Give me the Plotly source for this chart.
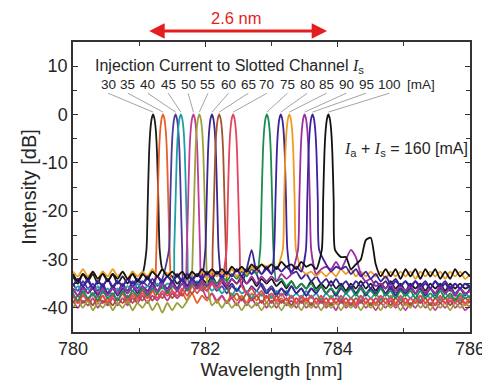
import numpy as np
import plotly.graph_objects as go

# ---------------- data ----------------
currents_mA = [30, 35, 40, 45, 50, 55, 60, 65, 70, 75, 80, 85, 90, 95, 100]
peak_nm = [781.21, 781.36, 781.55, 781.63, 781.82, 781.91, 782.10, 782.21,
           782.42, 782.93, 783.14, 783.27, 783.50, 783.62, 783.86]
colors = ['#1a1a1a', '#e8602a', '#4b3a9a', '#1f9ea5', '#c23a95', '#9ba03c',
          '#3a2690', '#a4522f', '#e8435c', '#1a8c4e', '#3b2398', '#f29a1f',
          '#9a2f9f', '#3f219c', '#111111']

# common sampling grid of the floor readings (780 .. 786 nm, 81 samples)
wl_grid = np.linspace(780.0, 786.0, 81)

# shared lasing-peak profile (offset from peak in nm, level in dB)
peak_offset_nm = [-0.12, -0.10, -0.08, -0.06, -0.04, -0.02, 0.0,
                  0.02, 0.04, 0.06, 0.08, 0.10, 0.12]
peak_shape_db = [-35, -28, -18, -8, -3, -0.8, 0, -0.8, -3, -8, -18, -28, -35]

floor_30 = [-33.5, -35, -33, -34.5, -33, -35, -32.5, -34.5, -33, -35,
            -33.5, -35, -32.5, -34.5, -33, -34, -32, -33.5, -32, -33,
            -33.5, -35, -34, -35.5, -34, -35.5, -34, -35, -33.5, -35,
            -34, -35.5, -34, -35, -33.5, -35, -34, -35.5, -34, -35,
            -34, -35.5, -34.5, -36, -34.5, -36, -35, -36, -34.5, -36,
            -35, -36, -34.5, -36, -35, -36.5, -35, -36, -34.5, -36,
            -35, -36.5, -35, -36, -34.5, -36, -35, -36.5, -35, -36,
            -35, -36.5, -35, -36, -35, -36.5, -35, -36, -35, -36,
            -35.5]
floor_35 = [-37.5, -39, -37, -38.5, -37, -39, -37.5, -39.5, -37, -38.5,
            -37, -39, -37.5, -38.5, -37, -38, -36.5, -38, -36, -37.5,
            -36.5, -38, -37, -38.5, -37, -39, -37.5, -38.5, -37, -39,
            -37.5, -39, -37, -38.5, -37.5, -39, -37, -38.5, -37, -39,
            -37.5, -39, -38, -39.5, -37.5, -39, -38, -39, -37.5, -39,
            -38, -39.5, -37.5, -39, -38, -39.5, -38, -39, -37.5, -39,
            -38, -39.5, -38, -39, -37.5, -39, -38, -39.5, -38, -39,
            -37.5, -39, -38, -39.5, -38, -39, -37.5, -39, -38, -39.5,
            -38.5]
floor_40 = [-35, -36.5, -34.5, -36, -35, -36.5, -35, -37, -35.5, -36.5,
            -35, -36.5, -34.5, -36, -34.5, -35.5, -34, -35.5, -34, -35,
            -33.5, -35, -34, -35.5, -34.5, -36, -35, -36.5, -35, -36.5,
            -35.5, -37, -35.5, -36.5, -35, -37, -35.5, -36.5, -35, -36.5,
            -35.5, -37, -36, -37.5, -35.5, -37, -36, -37.5, -36, -37,
            -35.5, -37, -36, -37.5, -35.5, -37, -36, -37, -35.5, -37,
            -36, -37.5, -36, -37, -35.5, -37, -36, -37.5, -36, -37,
            -35.5, -37, -36, -37.5, -36, -37, -35.5, -37, -36, -37.5,
            -36]
floor_45 = [-37, -35.5, -37, -36, -37.5, -35.5, -37, -36, -37.5, -36,
            -37, -35.5, -36.5, -35, -36.5, -35.5, -36, -35, -36, -35,
            -35.5, -34.5, -35, -34, -35.5, -34.5, -36, -35, -36.5, -35.5,
            -37, -36, -37.5, -36, -37, -36.5, -38, -36.5, -37.5, -36.5,
            -38, -36.5, -37.5, -36.5, -38, -37, -38, -36.5, -38, -37,
            -38.5, -37, -38, -37, -38.5, -37, -38, -37, -38.5, -37,
            -38, -37, -38.5, -37, -38, -37, -38.5, -37, -38, -37,
            -38.5, -37, -38, -37, -38.5, -37, -38, -37, -38.5, -37,
            -38]
floor_50 = [-38.5, -40, -38.5, -39.5, -38, -40, -38.5, -39.5, -38, -39.5,
            -38, -39.5, -38, -39, -37.5, -39, -37.5, -38.5, -37, -38.5,
            -37, -38, -36.5, -37.5, -36, -37.5, -36.5, -38, -37, -38.5,
            -37.5, -39, -38, -39.5, -38, -39.5, -38, -39.5, -38.5, -40,
            -38.5, -40, -38.5, -39.5, -38.5, -40, -38.5, -40, -39, -40,
            -38.5, -40, -39, -40.5, -38.5, -40, -39, -40, -38.5, -40,
            -39, -40.5, -39, -40, -38.5, -40, -39, -40.5, -39, -40,
            -38.5, -40, -39, -40.5, -39, -40, -38.5, -40, -39, -40.5,
            -39.5]
floor_55 = [-40, -38.5, -40, -38.5, -40.5, -39, -40, -38.5, -40.5, -39,
            -40, -38.5, -40.5, -39, -40, -38.5, -40.5, -39, -41, -39,
            -40.5, -39, -40, -38.5, -39.5, -38, -39, -38, -39.5, -38.5,
            -40, -38.5, -40, -39, -40.5, -39, -40, -39, -40.5, -39,
            -40, -39, -40.5, -39, -40, -39, -40.5, -39, -40, -39,
            -40.5, -39, -40, -39, -40.5, -39, -40, -39, -40.5, -39,
            -40, -39, -40.5, -39, -40, -39, -40.5, -39, -40, -38.5,
            -40, -39, -40.5, -39, -40, -39, -40.5, -39, -40, -39,
            -40]
floor_60 = [-36, -37.5, -35.5, -37, -36, -37.5, -35.5, -37, -36, -37.5,
            -36, -37, -35.5, -37, -35.5, -36.5, -35, -36.5, -35, -36,
            -34.5, -36, -34, -35.5, -34, -35, -33.5, -35, -34, -35.5,
            -34.5, -36, -35, -36.5, -35, -32, -28, -33, -35.5, -37,
            -36, -37.5, -36, -37, -35.5, -37, -36, -37.5, -36, -37,
            -35.5, -37, -36, -37.5, -36, -37, -35.5, -37, -36, -37.5,
            -36, -37, -35.5, -37, -36, -37.5, -36, -37, -35.5, -37,
            -36, -37.5, -36, -37, -35.5, -37, -36, -37.5, -36, -37,
            -36.5]
floor_65 = [-39, -37.5, -39, -38, -39.5, -37.5, -39, -38, -39.5, -38,
            -39, -37.5, -39, -37.5, -38.5, -37, -38.5, -37, -38, -36.5,
            -38, -36.5, -37.5, -36, -37, -35.5, -36.5, -35.5, -37, -36,
            -37.5, -36.5, -38, -37, -38.5, -37, -38.5, -37.5, -39, -37.5,
            -39, -37.5, -39, -38, -39.5, -38, -39, -38, -39.5, -38,
            -39, -38, -39.5, -38, -39, -38, -39.5, -38, -39, -38,
            -39.5, -38, -39, -38, -39.5, -38, -39, -38, -39.5, -38,
            -39, -38, -39.5, -38, -39, -38, -39.5, -38, -39, -38,
            -39]
floor_70 = [-37.5, -39, -37.5, -38.5, -37, -38.5, -37.5, -39, -37.5, -38.5,
            -37, -38.5, -37, -38, -36.5, -38, -36.5, -38, -36.5, -37.5,
            -36.5, -37.5, -36, -37.5, -35.5, -37, -35.5, -36.5, -35, -36,
            -34.5, -36, -35, -36.5, -35.5, -37, -36, -37.5, -36.5, -38,
            -37, -38.5, -37, -38.5, -37.5, -39, -37.5, -38.5, -37.5, -39,
            -37.5, -39, -38, -39, -37.5, -39, -38, -39.5, -37.5, -39,
            -38, -39, -37.5, -39, -38, -39.5, -37.5, -39, -38, -39,
            -37.5, -39, -38, -39.5, -37.5, -39, -38, -39, -37.5, -39,
            -38]
floor_75 = [-37, -38.5, -36.5, -38, -37, -38.5, -36.5, -38, -37, -38.5,
            -36.5, -38, -36.5, -37.5, -36, -37.5, -36, -37, -35.5, -37,
            -35.5, -36.5, -35, -36.5, -35, -36, -34.5, -35.5, -34, -35,
            -33.5, -34.5, -33, -34, -32.5, -33.5, -32, -33, -32, -33,
            -33, -34.5, -34, -35.5, -34.5, -36, -35, -36, -35, -36.5,
            -35.5, -37, -36, -37, -35.5, -37, -36, -37.5, -36, -37,
            -36.5, -37.5, -36, -37.5, -36.5, -38, -36.5, -37.5, -36.5, -38,
            -36.5, -38, -37, -38, -36.5, -38, -37, -38.5, -37, -38,
            -37.5]
floor_80 = [-35.5, -34, -35.5, -34.5, -36, -34.5, -35.5, -34, -36, -34.5,
            -35.5, -34, -35.5, -34.5, -35, -34, -35, -33.5, -35, -33.5,
            -34.5, -33.5, -34.5, -33, -34.5, -33, -34, -33, -34, -32.5,
            -34, -32.5, -33.5, -32, -33.5, -32, -33, -31.5, -33, -32,
            -33, -32, -33.5, -32, -33, -32.5, -34, -33, -34.5, -33.5,
            -35, -34, -35.5, -34, -35.5, -34.5, -36, -34.5, -35.5, -34.5,
            -36, -34.5, -35.5, -34.5, -36, -34.5, -35.5, -34.5, -36, -34.5,
            -36, -35, -36, -34.5, -36, -35, -36.5, -35, -36, -35,
            -36]
floor_85 = [-32.5, -33.5, -32, -33.5, -32.5, -34, -32.5, -33.5, -32, -33.5,
            -32.5, -34, -32.5, -33.5, -32.5, -33.5, -32, -33.5, -32, -33,
            -32.5, -33.5, -32.5, -34, -32.5, -33.5, -32.5, -34, -32.5, -33.5,
            -32.5, -33.5, -32, -33.5, -32, -33, -31.5, -32.5, -31, -31.5,
            -31, -32, -31, -32, -31.5, -32.5, -32, -33, -32.5, -33.5,
            -32.5, -33.5, -32.5, -33.5, -32, -33, -32, -33.5, -32.5, -33.5,
            -32.5, -33.5, -32.5, -34, -32.5, -33.5, -32.5, -33.5, -32.5, -34,
            -32.5, -33.5, -32.5, -33.5, -32.5, -34, -32.5, -33.5, -32.5, -34,
            -33]
floor_90 = [-36, -37.5, -36, -37, -35.5, -37, -36, -37.5, -36, -37,
            -35.5, -37, -35.5, -36.5, -35.5, -37, -35.5, -36.5, -35, -36.5,
            -35, -36.5, -35, -36, -34.5, -36, -34.5, -35.5, -34.5, -35.5,
            -34, -35.5, -34, -35, -34, -35, -33.5, -35, -33.5, -34.5,
            -33.5, -34.5, -33, -34, -33, -34, -33, -33.5, -32.5, -33,
            -32, -31.5, -32, -30.5, -32, -30, -28, -29.5, -33, -34.5,
            -34, -35.5, -35, -36, -35, -36.5, -35.5, -36.5, -35.5, -37,
            -35.5, -37, -36, -37, -35.5, -37, -36, -37.5, -36, -37,
            -36.5]
floor_95 = [-35.5, -34, -35.5, -34, -36, -34.5, -35.5, -34, -35.5, -34.5,
            -35.5, -34, -35, -34, -35, -33.5, -35, -33.5, -34.5, -33.5,
            -34.5, -33, -34.5, -33, -34, -33, -34, -32.5, -34, -32.5,
            -33.5, -32.5, -33.5, -32, -33.5, -32, -33, -32, -33, -31.5,
            -33, -31.5, -32.5, -31.5, -32.5, -31.5, -32.5, -31, -32, -31,
            -32, -31, -32.5, -31.5, -32, -31.5, -33, -32, -33.5, -32.5,
            -34, -33, -34.5, -33.5, -35, -34, -35.5, -34.5, -35.5, -34.5,
            -35.5, -34.5, -36, -34.5, -35.5, -34.5, -36, -35, -36, -35,
            -35.5]
floor_100 = [-33, -34.5, -33, -34, -32.5, -34, -33, -34.5, -33, -34,
             -32.5, -34, -33, -34.5, -33, -34, -32.5, -33.5, -32, -33.5,
             -32.5, -33.5, -32.5, -34, -32.5, -33.5, -32, -33, -32, -33,
             -32, -33, -31.5, -32.5, -31.5, -32.5, -31, -32, -31, -32,
             -31, -32, -30.5, -31.5, -31, -32, -30.5, -31.5, -31, -32,
             -31, -32, -31, -32, -29.5, -29.5, -32, -31, -30, -26,
             -25.5, -31, -33.5, -32, -33.5, -32, -34, -32, -33.5, -32,
             -34, -32, -33.5, -32, -34, -32.5, -34, -32, -33.5, -32.5,
             -33.5]

floors = [floor_30, floor_35, floor_40, floor_45, floor_50, floor_55, floor_60,
          floor_65, floor_70, floor_75, floor_80, floor_85, floor_90, floor_95,
          floor_100]

x_ticks = [780, 782, 784, 786]
y_ticks = [-40, -30, -20, -10, 0, 10]
y_ticktext = ["-40", "-30", "-20", "-10", "0", "10"]

# label placement (nm) for the current labels row
label_x_nm = [780.53, 780.83, 781.13, 781.44, 781.74, 782.04, 782.35, 782.65,
              782.93, 783.24, 783.54, 783.83, 784.13, 784.43, 784.78]

FONT = "Liberation Sans, Arial, Helvetica, sans-serif"
TXT = "#262626"

fig = go.Figure()
for cur, pk, col, fl in zip(currents_mA, peak_nm, colors, floors):
    fl = np.asarray(fl, dtype=float)
    mask = np.abs(wl_grid - pk) >= 0.13
    fx, fy = wl_grid[mask], fl[mask]
    px = pk + np.asarray(peak_offset_nm)
    py = np.asarray(peak_shape_db, dtype=float)
    keep = py > np.interp(px, fx, fy)
    x = np.concatenate([fx, px[keep]])
    y = np.concatenate([fy, py[keep]])
    order = np.argsort(x)
    fig.add_trace(go.Scatter(
        x=x[order], y=y[order], mode="lines",
        line=dict(color=col, width=1.8, shape="spline", smoothing=0.6),
        name=f"{cur} mA", showlegend=False, hoverinfo="skip"))

# leader lines and current labels
for cur, lx, pk in zip(currents_mA, label_x_nm, peak_nm):
    fig.add_shape(type="line", xref="x", yref="y", x0=lx, y0=4.4, x1=pk, y1=0.5,
                  line=dict(color="#8c8c8c", width=0.8))
    fig.add_annotation(x=lx, y=6.3, xref="x", yref="y", text=str(cur),
                       showarrow=False, xanchor="center", yanchor="middle",
                       font=dict(family=FONT, size=13.5, color=TXT))
fig.add_annotation(x=785.26, y=6.3, xref="x", yref="y", text="[mA]",
                   showarrow=False, xanchor="center", yanchor="middle",
                   font=dict(family=FONT, size=13.5, color=TXT))

IS = ("<span style=\"font-family:'Liberation Serif', 'Times New Roman', serif\">"
      "<i>I</i></span>")
fig.add_annotation(x=780.30, y=10.0, xref="x", yref="y",
                   text="Injection Current to Slotted Channel " + IS + "<sub>s</sub>",
                   showarrow=False, xanchor="left", yanchor="middle",
                   font=dict(family=FONT, size=16, color=TXT))
fig.add_annotation(x=784.06, y=-7.3, xref="x", yref="y",
                   text=IS + "<sub>a</sub> + " + IS + "<sub>s</sub> = 160 [mA]",
                   showarrow=False, xanchor="left", yanchor="middle",
                   font=dict(family=FONT, size=16, color=TXT))

# 2.6 nm double arrow
RED = "#e41e1e"
fig.add_annotation(x=783.84, y=1.038, xref="x", yref="paper",
                   ax=781.13, ay=0, axref="x", ayref="pixel", text="",
                   showarrow=True, arrowhead=2, arrowside="end+start",
                   arrowsize=1.1, arrowwidth=2.8, arrowcolor=RED)
fig.add_annotation(x=782.46, y=1.117, xref="x", yref="paper", text="2.6 nm",
                   showarrow=False, xanchor="center", yanchor="top", borderpad=0,
                   font=dict(family=FONT, size=16.5, color=RED))

axis_common = dict(showline=True, linecolor="#333333", linewidth=1.5, mirror="ticks",
                   ticks="inside", ticklen=5, tickwidth=1.2, tickcolor="#333333",
                   showgrid=False, zeroline=False,
                   tickfont=dict(family=FONT, size=18, color=TXT))
fig.update_xaxes(range=[780, 786], tickmode="array", tickvals=x_ticks,
                 ticktext=[str(v) for v in x_ticks],
                 minor=dict(ticks="inside", ticklen=4, tickvals=[781, 783, 785],
                            tickcolor="#333333", tickwidth=1.2),
                 title=dict(text="Wavelength [nm]", standoff=1,
                            font=dict(family=FONT, size=19, color=TXT)),
                 **axis_common)
fig.update_yaxes(range=[-45, 15], tickmode="array", tickvals=y_ticks,
                 ticktext=y_ticktext,
                 minor=dict(ticks="inside", ticklen=4, tickvals=[-35, -25, -15, -5, 5],
                            tickcolor="#333333", tickwidth=1.2),
                 title=dict(text="Intensity [dB]", standoff=0,
                            font=dict(family=FONT, size=20, color=TXT)),
                 **axis_common)
# page has an 8px body margin: size the figure so the plot area lands where the reference has it
fig.update_layout(width=482, height=374,
                  margin=dict(l=65, r=20, t=34, b=50, autoexpand=False),
                  plot_bgcolor="white", paper_bgcolor="white", showlegend=False)
fig.write_html("out.html")
